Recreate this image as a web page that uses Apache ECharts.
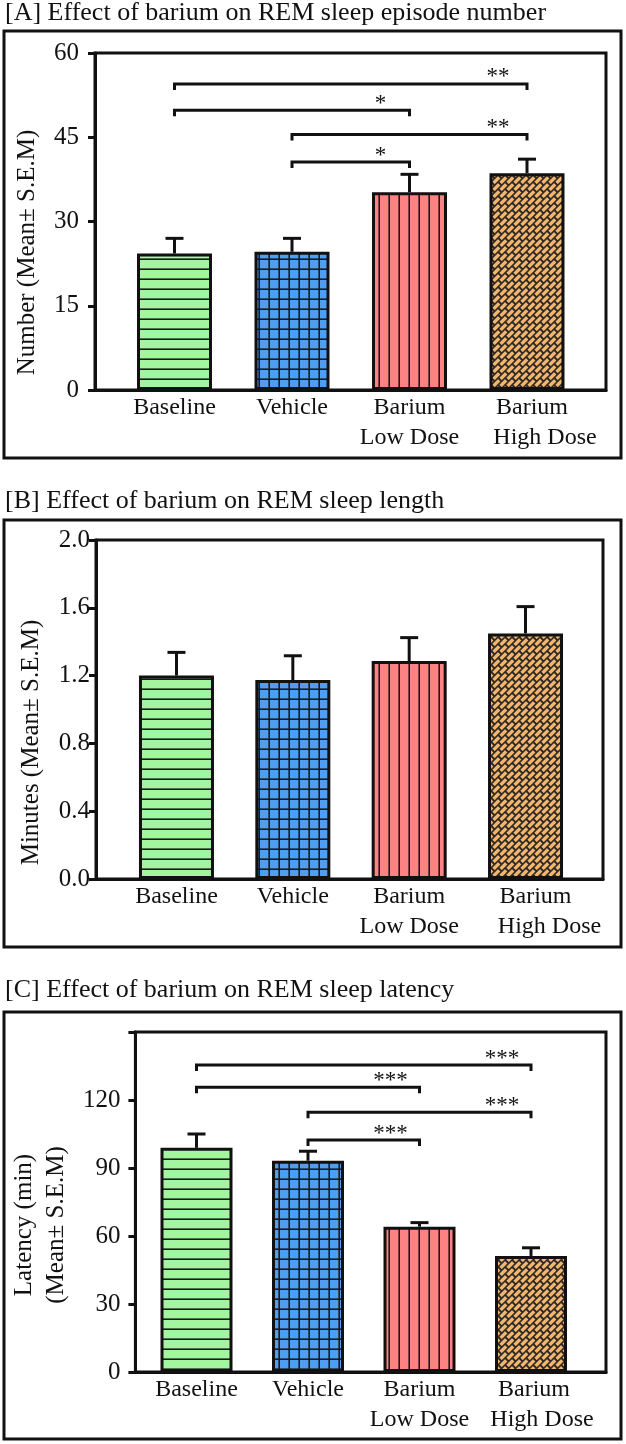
<!DOCTYPE html>
<html>
<head>
<meta charset="utf-8">
<script src="https://cdn.jsdelivr.net/npm/echarts@6/dist/echarts.min.js"></script>
<style>
  html, body { margin: 0; background: #fff; }
  #chart { width: 626px; height: 1444px; }
</style>
</head>
<body>
<div id="chart"></div>
<script>
// values
const categories = ['Baseline', 'Vehicle', 'Barium\nLow Dose', 'Barium\nHigh Dose'];

const episodeMean = [24.3, 24.6, 35.2, 38.6];
const episodeSem = [2.7, 2.4, 3.2, 2.5];
const episodeTicks = [0, 60, 15];
// [from, to, height, stars]
const episodeSig = [[0, 3, 54.5, '**'], [0, 2, 49.8, '*'], [1, 3, 45.5, '**'], [1, 2, 40.6, '*']];

const lengthMean = [1.20, 1.174, 1.286, 1.449];
const lengthSem = [0.137, 0.143, 0.138, 0.158];
const lengthTicks = [0, 2, 0.4];

const latencyMean = [98.9, 93.2, 64.1, 51.2];
const latencySem = [6.1, 4.2, 1.8, 3.6];
const latencyTicks = [0, 150, 30];
const latencySig = [[0, 3, 135.4, '***'], [0, 2, 125.6, '***'], [1, 3, 114.6, '***'], [1, 2, 102.3, '***']];

const INK = '#111';
const FONT = "'Liberation Serif', 'Times New Roman', serif";
const W = 626, H = 1444;

function tile(size, draw) {
    const c = document.createElement('canvas');
    c.width = c.height = size;
    draw(c.getContext('2d'), size);
    return { image: c, repeat: 'repeat' };
}

const hLines = tile(10, (ctx, s) => {
    ctx.fillStyle = '#a4f5a0'; ctx.fillRect(0, 0, s, s);
    ctx.fillStyle = '#1a1a1a'; ctx.fillRect(0, 8.4, s, 1.6);
});
const grid = tile(10, (ctx, s) => {
    ctx.fillStyle = '#4f9ef2'; ctx.fillRect(0, 0, s, s);
    ctx.fillStyle = '#1a1a1a';
    ctx.fillRect(0, 8.4, s, 1.6);
    ctx.fillRect(8.4, 0, 1.6, s);
});
const vLines = tile(10, (ctx, s) => {
    ctx.fillStyle = '#fd8282'; ctx.fillRect(0, 0, s, s);
    ctx.fillStyle = '#1a1a1a'; ctx.fillRect(8.4, 0, 1.6, s);
});
// diagonal brick weave, periodic on a 14px tile
const bricks = tile(14, (ctx, s) => {
    const img = ctx.createImageData(s, s);
    const h = 7, l = 14, wr = 2.2, wb = 2.6, n = 4;
    const mod = (v, m) => ((v % m) + m) % m;
    for (let y = 0; y < s; y++) {
        for (let x = 0; x < s; x++) {
            let dark = 0;
            for (let sy = 0; sy < n; sy++) for (let sx = 0; sx < n; sx++) {
                const px = x + (sx + 0.5) / n, py = y + (sy + 0.5) / n;
                const a = px + py, b = px - py;
                const r = Math.floor(a / h);
                const off = r % 2 ? l / 2 : 0;
                if (mod(a, h) < wr || mod(b + off, l) < wb) dark++;
            }
            const t = dark / (n * n);
            const i = (y * s + x) * 4;
            img.data[i] = 242 * (1 - t) + 45 * t;
            img.data[i + 1] = 181 * (1 - t) + 40 * t;
            img.data[i + 2] = 110 * (1 - t) + 35 * t;
            img.data[i + 3] = 255;
        }
    }
    ctx.putImageData(img, 0, 0);
});
const fills = [hLines, grid, vLines, bricks];

const option = {
    animation: false,
    backgroundColor: '#fff',
    title: [], grid: [], xAxis: [], yAxis: [], series: [], graphic: []
};

function addPanel(p) {
    const gi = option.grid.length;
    const xi = option.xAxis.length;
    const yi = option.yAxis.length;
    const [min, max, interval] = p.ticks;

    option.title.push({
        text: p.title, left: 5, top: p.titleTop, padding: 0,
        textStyle: { fontFamily: FONT, fontSize: 26, fontWeight: 'normal', color: INK }
    });
    option.graphic.push({
        type: 'rect', silent: true,
        shape: { x: 4, y: p.box[0], width: 617, height: p.box[1] - p.box[0] },
        style: { fill: 'none', stroke: INK, lineWidth: 3 }
    });

    // frame grid: axes and border
    option.grid.push({
        left: p.frame[0], right: W - p.frame[1], top: p.frame[2], bottom: H - p.frame[3],
        show: true, borderColor: INK, borderWidth: 3, backgroundColor: 'transparent'
    });
    // bar grid: categories placed as in the figure
    option.grid.push({
        left: p.bars[0], right: W - p.bars[1], top: p.frame[2], bottom: H - p.frame[3]
    });

    option.xAxis.push({
        gridIndex: gi, type: 'category', data: categories,
        axisLine: { show: true, lineStyle: { color: INK, width: 3 } },
        axisTick: { show: false }, axisLabel: { show: false }
    });
    option.xAxis.push({
        gridIndex: gi + 1, type: 'category', data: categories,
        axisLine: { show: false }, axisTick: { show: false },
        axisLabel: {
            fontFamily: FONT, fontSize: 24, color: INK, lineHeight: 30, margin: 3, interval: 0,
            formatter: (v, i) => (i === 3 ? v.split('\n').map((t, k) => `{h${k}|${t}}`).join('\n') : v),
            rich: {
                h0: { fontFamily: FONT, fontSize: 24, color: INK, lineHeight: 30, padding: [0, 0, 0, p.hiShift[0] * 2] },
                h1: { fontFamily: FONT, fontSize: 24, color: INK, lineHeight: 30, padding: [0, 0, 0, p.hiShift[1] * 2] }
            }
        }
    });
    option.yAxis.push({
        gridIndex: gi, type: 'value', min, max, interval,
        name: p.yName, nameLocation: 'middle', nameRotate: 90, nameGap: p.nameGap,
        nameTextStyle: {
            fontFamily: FONT, fontSize: 25, color: INK, lineHeight: 32,
            padding: [0, p.nameShift * 2, 0, 0]
        },
        axisLine: { show: true, lineStyle: { color: INK, width: 3 } },
        axisTick: { show: true, length: 7, lineStyle: { color: INK, width: 3 } },
        splitLine: { show: false },
        axisLabel: {
            fontFamily: FONT, fontSize: 25, color: INK, margin: p.labelMargin,
            formatter: p.fmt
        }
    });
    option.yAxis.push({ gridIndex: gi + 1, type: 'value', min, max, interval, show: false });

    option.series.push({
        type: 'bar', xAxisIndex: xi + 1, yAxisIndex: yi + 1, barWidth: p.barWidth, z: 3,
        data: p.mean.map((v, i) => ({
            value: v,
            itemStyle: { color: fills[i], borderColor: INK, borderWidth: 3 }
        }))
    });
    option.series.push({
        type: 'custom', xAxisIndex: xi + 1, yAxisIndex: yi + 1, z: 2, clip: false,
        data: p.mean.map((v, i) => [i, v, v + p.sem[i]]),
        renderItem: (params, api) => {
            const a = api.coord([api.value(0), api.value(1)]);
            const b = api.coord([api.value(0), api.value(2)]);
            const st = { stroke: INK, lineWidth: 3, fill: 'none' };
            return {
                type: 'group', children: [
                    { type: 'line', shape: { x1: a[0], y1: a[1], x2: b[0], y2: b[1] }, style: st },
                    { type: 'line', shape: { x1: b[0] - 9, y1: b[1], x2: b[0] + 9, y2: b[1] }, style: st }
                ]
            };
        }
    });
    if (p.sig) {
        option.series.push({
            type: 'custom', xAxisIndex: xi + 1, yAxisIndex: yi + 1, z: 4, clip: false,
            data: p.sig.map(s => [s[0], s[1], s[2]]),
            renderItem: (params, api) => {
                const a = api.coord([api.value(0), api.value(2)]);
                const b = api.coord([api.value(1), api.value(2)]);
                return {
                    type: 'group', children: [
                        {
                            type: 'polyline',
                            shape: { points: [[a[0], a[1] + 6], [a[0], a[1]], [b[0], b[1]], [b[0], b[1] + 6]] },
                            style: { stroke: INK, lineWidth: 3, fill: 'none' }
                        },
                        {
                            type: 'text',
                            style: {
                                text: p.sig[params.dataIndex][3], x: b[0] - 29, y: b[1] + 5,
                                fill: INK, font: '23px ' + FONT, textAlign: 'center', textVerticalAlign: 'bottom'
                            }
                        }
                    ]
                };
            }
        });
    }
}

addPanel({
    title: '[A] Effect of barium on REM sleep episode number', titleTop: 0, box: [31, 458],
    frame: [95, 606, 53, 390], bars: [115.75, 585.75], barWidth: 75,
    ticks: episodeTicks, mean: episodeMean, sem: episodeSem, sig: episodeSig,
    yName: 'Number (Mean\u00b1 S.E.M)', nameGap: 52, nameShift: 31, labelMargin: 16,
    hiShift: [5, 18]
});
addPanel({
    title: '[B] Effect of barium on REM sleep length', titleTop: 488, box: [520, 947],
    frame: [96, 603, 540, 879], bars: [118.3, 583.7], barWidth: 75,
    ticks: lengthTicks, mean: lengthMean, sem: lengthSem,
    yName: 'Minutes (Mean\u00b1 S.E.M)', nameGap: 49, nameShift: 33, labelMargin: 6,
    fmt: v => v.toFixed(1), hiShift: [10, 24]
});
addPanel({
    title: '[C] Effect of barium on REM sleep latency', titleTop: 977, box: [1012, 1439],
    frame: [123, 606, 1032, 1372], bars: [140.75, 586.75], barWidth: 72,
    ticks: latencyTicks, mean: latencyMean, sem: latencySem, sig: latencySig,
    yName: 'Latency (min)\n(Mean\u00b1 S.E.M)', nameGap: 52, nameShift: 23, labelMargin: 15,
    fmt: v => (v === 150 ? '' : String(v)), hiShift: [3, 11]
});

const chart = echarts.init(document.getElementById('chart'));
chart.setOption(option);
</script>
</body>
</html>
